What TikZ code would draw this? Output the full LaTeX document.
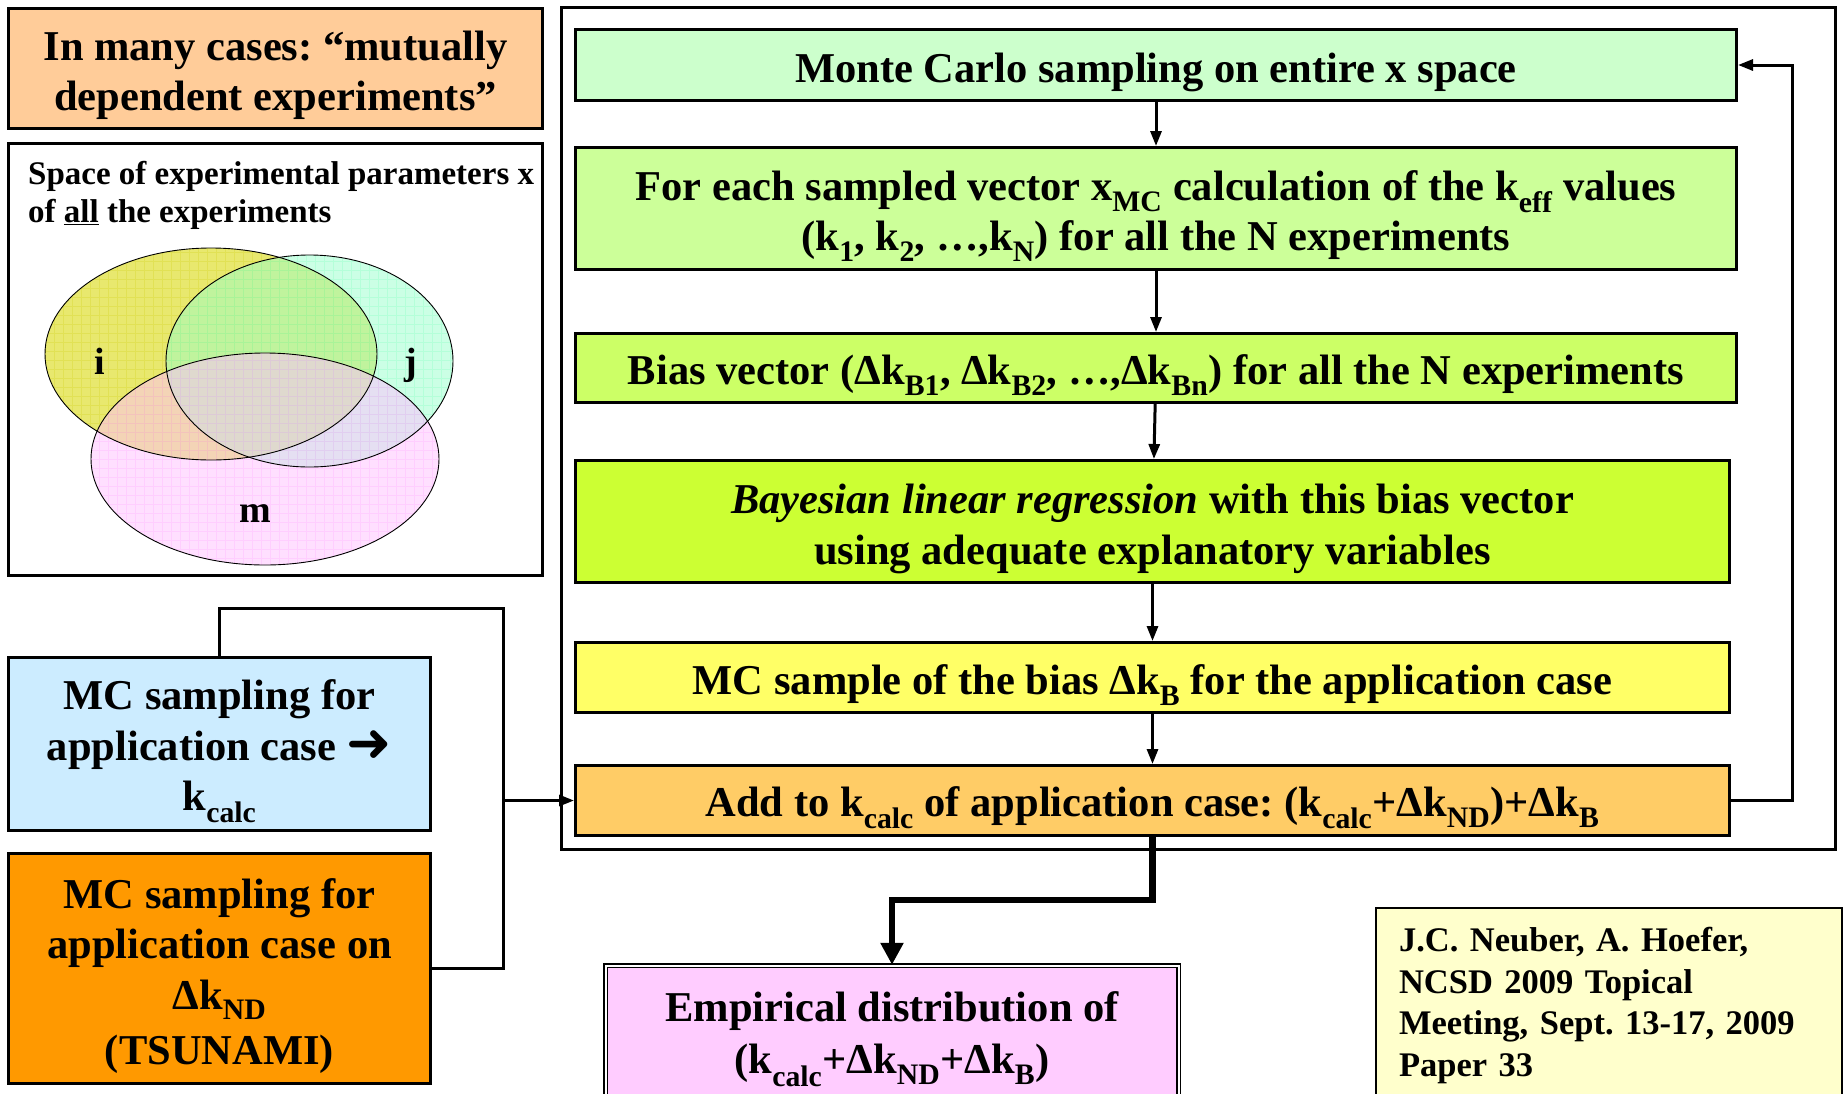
\documentclass[tikz,border=0pt]{standalone}
\usepackage{fontspec}
\setmainfont{Liberation Serif}
\newfontfamily\arrowfont{DejaVu Sans}
\usetikzlibrary{arrows.meta,calc}

% fill colours
\definecolor{notefill}{RGB}{255,204,153}
\definecolor{mcfill}{RGB}{204,255,204}
\definecolor{eachfill}{RGB}{204,255,153}
\definecolor{biasfill}{RGB}{204,255,102}
\definecolor{bayesfill}{RGB}{204,255,51}
\definecolor{samplefill}{RGB}{255,255,102}
\definecolor{addfill}{RGB}{255,204,102}
\definecolor{calcfill}{RGB}{204,236,255}
\definecolor{ndfill}{RGB}{255,153,0}
\definecolor{empfill}{RGB}{255,204,255}
\definecolor{reffill}{RGB}{255,255,204}
\definecolor{vennI}{RGB}{232,232,110}
\definecolor{vennJ}{RGB}{153,255,205}
\definecolor{vennM}{RGB}{255,193,255}
\definecolor{gridI}{RGB}{204,204,0}
\definecolor{gridJ}{RGB}{102,255,178}
\definecolor{gridM}{RGB}{255,150,255}

\newcommand\sbs[1]{\textsubscript{#1}}
% struts giving the text the ascent and descent used by the boxes
\newcommand\topstrut{\rule{0pt}{1.054em}}
\newcommand\botstrut{\rule[-0.216em]{0pt}{0.216em}}
\newcommand\pstrut{\rule[-0.216em]{0pt}{1.27em}}
\newcommand\bigarrow{\raisebox{-0.04em}{\arrowfont\fontsize{54}{54}\selectfont ➜}}

\tikzset{
  box/.style={draw, line width=3pt, inner sep=0pt, align=center,
    font=\fontsize{42.5}{50.5}\selectfont\bfseries},
  flow/.style={line width=3pt, -{Triangle[length=15pt,width=11pt]}},
  link/.style={line width=3pt},
  bigflow/.style={line width=6.5pt, -{Triangle[length=22pt,width=22pt]}},
  venngrid/.style={draw=#1, opacity=0.22, line width=0.7pt},
  vennlabel/.style={inner sep=0pt, font=\fontsize{38}{44}\selectfont\bfseries},
}

\begin{document}
\frenchspacing
\begin{tikzpicture}[x=1pt,y=-1pt]
\useasboundingbox (0,0) rectangle (1845,1093);
\fill[white] (0,0) rectangle (1845,1093);

% ---- left column -------------------------------------------------------
\node[box, fill=notefill, minimum width=534pt, minimum height=120pt,
      font=\fontsize{42.5}{50}\selectfont\bfseries] (note) at (275.5,68)
  {\topstrut In many cases: “mutually\\dependent experiments”\botstrut};

\node[draw, line width=3pt, fill=white, minimum width=534pt, minimum height=432pt,
      inner sep=0pt] (vennbox) at (275.5,359.5) {};
\node[anchor=west, align=left, inner sep=0pt,
      font=\fontsize{33}{38}\selectfont\bfseries] (vtitle) at (28,195.5)
  {Space of experimental parameters x\\of \underline{all} the experiments};

% Venn diagram: three gridded ellipses, the later ones translucent
\fill[vennI] (211,354) ellipse [x radius=166pt, y radius=106pt];
\begin{scope}
  \clip (211,354) ellipse [x radius=166pt, y radius=106pt];
  \draw[venngrid=gridI, step=9pt] (40,240) grid (460,570);
\end{scope}
\fill[vennJ, fill opacity=0.5] (309.5,361) ellipse [x radius=143.5pt, y radius=106pt];
\begin{scope}
  \clip (309.5,361) ellipse [x radius=143.5pt, y radius=106pt];
  \draw[venngrid=gridJ, step=9pt] (40,240) grid (460,570);
\end{scope}
\fill[vennM, fill opacity=0.5] (265,459) ellipse [x radius=174pt, y radius=106pt];
\begin{scope}
  \clip (265,459) ellipse [x radius=174pt, y radius=106pt];
  \draw[venngrid=gridM, step=9pt] (40,240) grid (460,570);
\end{scope}
\draw[line width=0.9pt] (211,354) ellipse [x radius=166pt, y radius=106pt];
\draw[line width=0.9pt] (309.5,361) ellipse [x radius=143.5pt, y radius=106pt];
\draw[line width=0.9pt] (265,459) ellipse [x radius=174pt, y radius=106pt];
\node[vennlabel] (li) at (100,361) {i};
\node[vennlabel] (lj) at (411,365) {j};
\node[vennlabel] (lm) at (255,514) {m};

\node[box, fill=calcfill, minimum width=422pt, minimum height=173pt] (calc) at (219.5,744)
  {\topstrut MC sampling for\\application case \bigarrow\\k\sbs{calc}\botstrut};
\node[box, fill=ndfill, minimum width=422pt, minimum height=230pt] (nd) at (219.5,968.5)
  {\topstrut MC sampling for\\application case on\\Δk\sbs{ND}\\[5pt](TSUNAMI)\botstrut};

% ---- main loop ---------------------------------------------------------
\node[draw, line width=3pt, minimum width=1274pt, minimum height=842pt,
      inner sep=0pt] (frame) at (1198.5,428.5) {};

\node[box, fill=mcfill, minimum width=1161pt, minimum height=71pt] (mc) at (1156,65)
  {\pstrut Monte Carlo sampling on entire x space};
\node[box, fill=eachfill, minimum width=1161pt, minimum height=122pt] (each) at (1156,208.5)
  {\topstrut For each sampled vector x\sbs{MC} calculation of the k\sbs{eff} values\\
   (k\sbs{1}, k\sbs{2}, …,k\sbs{N}) for all the N experiments\botstrut};
\node[box, fill=biasfill, minimum width=1161pt, minimum height=69pt] (bias) at (1156,368)
  {\pstrut Bias vector (Δk\sbs{B1}, Δk\sbs{B2}, …,Δk\sbs{Bn}) for all the N experiments};
\node[box, fill=bayesfill, minimum width=1154pt, minimum height=122pt] (bayes) at (1152.5,521.5)
  {\topstrut\textit{Bayesian linear regression} with this bias vector\\
   using adequate explanatory variables\botstrut};
\node[box, fill=samplefill, minimum width=1154pt, minimum height=70pt] (sample) at (1152.5,677.5)
  {\pstrut MC sample of the bias Δk\sbs{B} for the application case};
\node[box, fill=addfill, minimum width=1154pt, minimum height=70pt] (add) at (1152.5,800.5)
  {\pstrut Add to k\sbs{calc} of application case: (k\sbs{calc}+Δk\sbs{ND})+Δk\sbs{B}};

\draw[flow] (mc) -- (each);
\draw[flow] (each) -- (bias);
\draw[flow] (bias) -- (bayes);
\draw[flow] (bayes) -- (sample);
\draw[flow] (sample) -- (add);

% feedback loop back to the sampling step
\coordinate (fb) at (1792,0);
\draw[flow] (add.east) -| (fb |- mc.east) -- (mc.east);

% inputs from the application case
\coordinate (bus) at (503,608);
\draw[link] (calc.north) |- (bus) |- (nd.east);
\draw[flow] (bus |- add.west) -- (add.west);

% ---- result ------------------------------------------------------------
\node[draw, line width=1.5pt, double=white, double distance=2pt, fill=empfill,
      minimum width=573pt, minimum height=132pt, inner sep=0pt, align=center,
      font=\fontsize{42.5}{52.5}\selectfont\bfseries] (emp) at (892,1031.5)
  {\topstrut Empirical distribution of\\(k\sbs{calc}+Δk\sbs{ND}+Δk\sbs{B})\botstrut};

\coordinate (drop) at (0,900);
\draw[bigflow] (add.south) |- (emp.north |- drop) -- (emp.north);

\node[draw, line width=2pt, fill=reffill, minimum width=466pt, minimum height=196pt,
      text width=420pt, align=left, inner sep=0pt,
      font=\fontsize{34.5}{41.5}\selectfont\bfseries] (ref) at (1609,1005.5)
  {J.C. Neuber, A. Hoefer,\\NCSD 2009 Topical\\Meeting, Sept. 13-17, 2009\\Paper 33};
\end{tikzpicture}
\end{document}
